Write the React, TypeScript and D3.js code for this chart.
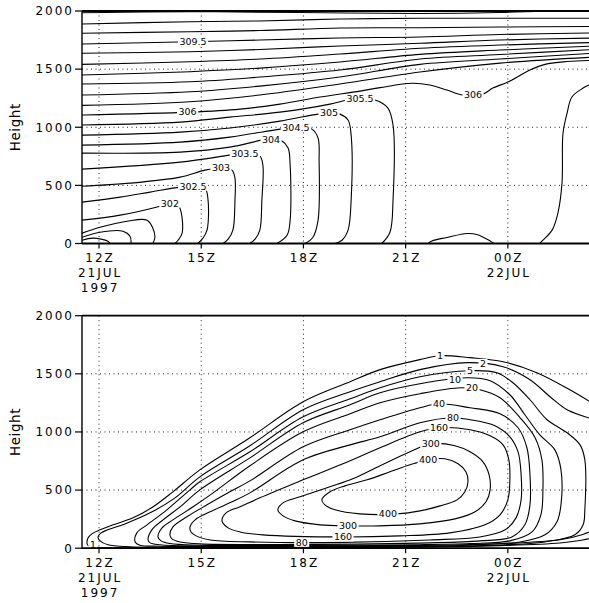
import React from 'react';
import * as d3 from 'd3';

type Pt = [number, number];
type Lbl = [number, number, string];

// time axis in hours from 00Z 21JUL1997 (24 = 00Z 22JUL)
const hourTicks = [12, 15, 18, 21, 24];
const hourTickLabels = [['12Z', '21JUL', '1997'], ['15Z'], ['18Z'], ['21Z'], ['00Z', '22JUL']];
const heightTicks = [0, 500, 1000, 1500, 2000];
const gridHeights = [500, 1000, 1500];

// top panel: potential temperature contours (K), points are [hour, height m]
const th311: Pt[] = [[11.5, 1985], [14.67, 1994], [17.9, 1987], [21.42, 1979], [23.77, 1987], [25.15, 2000]];
const th3105: Pt[] = [[11.5, 1888], [14.67, 1908], [16.72, 1914], [19.07, 1931], [21.42, 1937], [23.77, 1937], [26.56, 1937]];
const th310: Pt[] = [[11.5, 1808], [14.67, 1822], [16.72, 1832], [19.07, 1854], [21.42, 1856], [23.77, 1862], [26.56, 1867]];
const th3095: Pt[] = [[11.5, 1716], [14.67, 1736], [16.72, 1750], [19.07, 1768], [21.42, 1776], [23.77, 1798], [26.56, 1811]];
const th309: Pt[] = [[11.5, 1636], [14.67, 1650], [16.72, 1669], [19.07, 1699], [21.42, 1722], [23.77, 1750], [26.56, 1768]];
const th3085: Pt[] = [[11.5, 1541], [14.67, 1564], [16.72, 1587], [19.07, 1630], [21.42, 1679], [23.77, 1707], [26.56, 1729]];
const th308: Pt[] = [[11.5, 1449], [14.67, 1478], [16.72, 1509], [19.07, 1561], [21.42, 1627], [23.77, 1664], [26.56, 1699]];
const th3075: Pt[] = [[11.5, 1372], [14.67, 1391], [16.72, 1432], [19.07, 1492], [21.42, 1587], [23.77, 1626], [26.56, 1669]];
const th307: Pt[] = [[11.5, 1277], [14.67, 1305], [16.72, 1354], [19.07, 1432], [21.42, 1541], [23.77, 1587], [26.56, 1638]];
const th3065: Pt[] = [[11.5, 1188], [14.67, 1219], [16.72, 1277], [19.07, 1372], [21.42, 1475], [23.77, 1552], [26.56, 1604]];
const th306: Pt[] = [[11.5, 1105], [14.67, 1130], [16.14, 1156], [17.31, 1199], [18.49, 1260], [19.66, 1311], [20.25, 1341], [21.19, 1378], [21.71, 1363], [22.21, 1320], [22.68, 1277], [23.27, 1285], [23.56, 1337], [24.0, 1389], [24.65, 1492], [25.15, 1545], [25.74, 1565], [26.56, 1575]];
const th306east: Pt[] = [[26.6, 1390], [26.38, 1363], [26.21, 1337], [25.88, 1260], [25.74, 1122], [25.62, 950], [25.59, 519], [25.47, 261], [25.3, 115], [25.03, 28], [24.94, 0]];
const th306bump: Pt[] = [[21.66, 0], [21.77, 22], [22.21, 52], [22.8, 86], [23.09, 78], [23.48, 22], [23.59, 0]];
const th3055: Pt[] = [[11.5, 1019], [14.38, 1044], [15.84, 1087], [17.31, 1130], [18.78, 1199], [19.28, 1234], [19.66, 1243], [20.1, 1234], [20.48, 1165], [20.63, 1019], [20.63, 373], [20.54, 97], [20.3, 0]];
const th305: Pt[] = [[11.5, 932], [14.38, 958], [15.84, 993], [17.31, 1053], [18.43, 1113], [18.75, 1122], [19.07, 1113], [19.31, 1062], [19.4, 932], [19.4, 373], [19.31, 115], [19.13, 28], [18.93, 0]];
const th3045: Pt[] = [[11.5, 846], [14.38, 872], [15.84, 915], [17.31, 984], [17.78, 1001], [18.25, 984], [18.43, 907], [18.46, 717], [18.43, 201], [18.28, 54], [18.05, 0]];
const th304: Pt[] = [[11.5, 777], [14.38, 786], [15.84, 829], [16.78, 889], [17.05, 898], [17.37, 881], [17.55, 821], [17.61, 674], [17.61, 201], [17.52, 71], [17.22, 0]];
const th3035: Pt[] = [[11.5, 640], [14.38, 700], [15.84, 760], [16.28, 777], [16.72, 752], [16.81, 674], [16.78, 373], [16.72, 115], [16.58, 37], [16.43, 0]];
const th303: Pt[] = [[11.5, 493], [12.91, 519], [14.38, 571], [15.11, 631], [15.58, 649], [15.9, 631], [15.99, 562], [15.99, 373], [15.93, 115], [15.79, 37], [15.64, 0]];
const th3025: Pt[] = [[11.5, 356], [12.62, 399], [13.5, 442], [14.38, 485], [14.76, 493], [15.11, 476], [15.2, 373], [15.17, 115], [15.05, 46], [14.9, 0]];
const th302: Pt[] = [[11.5, 201], [12.62, 244], [13.79, 321], [14.08, 347], [14.32, 330], [14.41, 270], [14.44, 89], [14.32, 28], [14.23, 0]];
const th3015: Pt[] = [[11.5, 89], [12.03, 140], [12.82, 192], [13.41, 201], [13.58, 132], [13.64, 54], [13.58, 0]];
const th301: Pt[] = [[11.5, 54], [12.03, 97], [12.7, 106], [12.91, 63], [12.94, 0]];
const th3005: Pt[] = [[11.5, 28], [11.82, 46], [12.26, 20], [12.32, 0]];

const thetaLabels: Lbl[] = [
  [14.76, 1736, '309.5'], [14.6, 1133, '306'], [22.98, 1279, '306'], [19.66, 1243, '305.5'],
  [18.75, 1122, '305'], [17.78, 1001, '304.5'], [17.05, 898, '304'], [16.28, 777, '303.5'],
  [15.58, 649, '303'], [14.76, 493, '302.5'], [14.08, 347, '302'],
];

// bottom panel contours (levels 1 ... 400)
const c1: Pt[] = [[26.56, 97], [26.2, 70], [25.53, 45], [23.77, 22], [21.42, 8], [17.9, 4], [13.5, 3], [12.03, 6], [11.73, 14], [11.65, 37], [11.68, 89], [11.79, 123], [12.03, 158], [12.41, 201], [13.0, 261], [13.58, 355], [14.17, 485], [14.96, 674], [16.43, 950], [17.99, 1260], [19.37, 1432], [20.25, 1536], [21.42, 1622], [22.01, 1656], [22.89, 1639], [23.86, 1604], [24.85, 1510], [25.82, 1363], [26.56, 1234]];
const c2: Pt[] = [[26.56, 160], [26.2, 118], [25.53, 72], [23.77, 38], [21.42, 14], [17.9, 9], [14.96, 8], [12.91, 13], [12.26, 30], [12.03, 63], [11.97, 97], [12.06, 132], [12.26, 158], [12.76, 209], [13.5, 304], [14.23, 433], [14.96, 614], [16.43, 881], [17.99, 1191], [19.37, 1346], [20.25, 1432], [21.42, 1536], [22.83, 1596], [23.86, 1561], [24.65, 1449], [25.24, 1303], [25.74, 1191], [26.56, 1105]];
const c5: Pt[] = [[13.11, 132], [13.06, 54], [13.2, 26], [13.79, 17], [16.43, 14], [21.71, 17], [23.77, 28], [25.09, 54], [25.97, 115], [26.21, 201], [26.26, 330], [26.26, 760], [26.12, 889], [25.74, 993], [25.15, 1105], [24.65, 1277], [24.15, 1423], [23.68, 1510], [22.89, 1527], [21.42, 1475], [20.25, 1380], [19.37, 1285], [17.99, 1130], [16.43, 829], [14.96, 571], [14.67, 502], [13.99, 330], [13.41, 201]];
const c10: Pt[] = [[13.44, 71], [13.55, 158], [13.88, 244], [14.38, 356], [14.96, 502], [16.43, 777], [17.99, 1079], [19.37, 1234], [20.25, 1337], [21.42, 1415], [22.83, 1466], [23.48, 1441], [24.06, 1320], [24.5, 1148], [24.94, 975], [25.38, 846], [25.56, 674], [25.56, 373], [25.44, 226], [25.09, 115], [24.36, 54], [22.89, 32], [21.42, 24], [17.9, 19], [14.96, 19], [13.79, 30], [13.5, 46]];
const c20: Pt[] = [[13.73, 97], [13.85, 175], [14.17, 244], [14.76, 356], [15.35, 476], [16.43, 709], [17.99, 1001], [19.37, 1156], [20.25, 1251], [21.42, 1329], [22.62, 1380], [23.18, 1363], [23.77, 1294], [24.36, 1122], [24.8, 950], [25.0, 760], [25.03, 502], [24.97, 287], [24.71, 140], [24.06, 63], [22.89, 40], [21.42, 30], [17.9, 24], [14.96, 26], [14.08, 40], [13.82, 63]];
const c40: Pt[] = [[14.08, 115], [14.17, 183], [14.58, 270], [15.17, 373], [15.84, 485], [16.43, 579], [17.99, 872], [19.37, 1019], [20.25, 1105], [21.42, 1208], [21.98, 1242], [22.89, 1208], [23.77, 1156], [24.3, 1036], [24.56, 864], [24.65, 631], [24.65, 373], [24.5, 201], [24.12, 97], [23.18, 63], [21.71, 46], [17.9, 33], [14.96, 37], [14.38, 54], [14.14, 80]];
const c80: Pt[] = [[14.67, 183], [14.82, 244], [15.26, 313], [15.84, 390], [16.43, 476], [17.99, 760], [19.37, 889], [20.25, 958], [21.42, 1079], [22.39, 1122], [22.89, 1105], [23.62, 1053], [24.06, 958], [24.3, 829], [24.39, 631], [24.39, 416], [24.24, 261], [23.92, 158], [23.18, 97], [21.71, 71], [19.16, 50], [16.43, 54], [15.26, 71], [14.85, 106], [14.7, 140]];
const c160: Pt[] = [[15.61, 235], [15.73, 304], [16.14, 356], [16.72, 433], [17.99, 588], [19.37, 752], [20.25, 864], [21.42, 1001], [21.98, 1036], [22.89, 1019], [23.48, 967], [23.86, 889], [24.03, 760], [24.06, 588], [24.0, 416], [23.77, 287], [23.33, 201], [22.3, 132], [20.83, 106], [19.16, 97], [16.81, 115], [16.14, 140], [15.79, 175]];
const c300: Pt[] = [[17.25, 330], [17.4, 390], [17.9, 442], [18.78, 528], [19.45, 597], [20.25, 709], [21.13, 829], [21.74, 898], [22.45, 881], [22.89, 829], [23.27, 743], [23.45, 631], [23.48, 502], [23.36, 399], [23.04, 313], [22.45, 252], [21.42, 209], [20.25, 192], [19.31, 192], [18.49, 201], [17.75, 235], [17.4, 278]];
const c400: Pt[] = [[18.54, 416], [18.78, 485], [19.22, 536], [19.87, 588], [20.54, 657], [21.13, 717], [21.66, 760], [22.15, 769], [22.54, 726], [22.77, 657], [22.83, 571], [22.74, 485], [22.51, 416], [22.01, 364], [21.42, 321], [20.75, 295], [19.66, 295], [18.93, 330], [18.63, 373]];

// labels sit on their own contour; the stacked ones are staggered along the line
const concLabels: Lbl[] = [
  [22.01, 1656, '1'], [23.27, 1590, '2'], [22.89, 1527, '5'], [22.45, 1450, '10'], [22.95, 1378, '20'],
  [21.98, 1242, '40'], [22.39, 1122, '80'], [21.98, 1036, '160'], [21.74, 898, '300'], [21.66, 760, '400'],
  [20.48, 300, '400'], [19.31, 192, '300'], [19.16, 97, '160'], [17.95, 50, '80'], [11.82, 28, '1'],
];

const thetaOpen = [th311, th3105, th310, th3095, th309, th3085, th308, th3075, th307, th3065, th306, th306east, th306bump,
  th3055, th305, th3045, th304, th3035, th303, th3025, th302, th3015, th301, th3005];
const concOpen = [c1, c2];
const concClosed = [c5, c10, c20, c40, c80, c160, c300, c400];

const x = d3.scaleLinear().domain([11.5, 26.5]).range([82, 593]);
const FONT = "'DejaVu Sans', sans-serif";

const textWidth = (s: string) => s.split('').reduce((w, ch) => w + (ch === '.' ? 3.0 : 6.04), 0);

function Panel({ top, id, open, closed, labels }: { top: number; id: string; open: Pt[][]; closed: Pt[][]; labels: Lbl[] }) {
  const y = d3.scaleLinear().domain([0, 2000]).range([top + 232.5, top]);
  const x0 = 82, x1 = 589;
  const line = d3.line<Pt>().x(d => x(d[0])).y(d => y(d[1])).curve(d3.curveCatmullRom.alpha(0.5));
  const loop = d3.line<Pt>().x(d => x(d[0])).y(d => y(d[1])).curve(d3.curveCatmullRomClosed.alpha(0.5));
  const base = y(0);

  return (
    <g>
      <defs>
        <clipPath id={id}>
          <rect x={x0} y={top} width={x1 - x0 + 10} height={232.5} />
        </clipPath>
      </defs>

      {/* dotted grid */}
      {hourTicks.map(h => (
        <line key={'v' + h} x1={x(h)} x2={x(h)} y1={top} y2={base} stroke="#222" strokeWidth={1} strokeDasharray="1 3.5" />
      ))}
      {gridHeights.map(v => (
        <line key={'h' + v} x1={x0} x2={x1} y1={y(v)} y2={y(v)} stroke="#222" strokeWidth={1} strokeDasharray="1 3.5" />
      ))}

      <g clipPath={`url(#${id})`} fill="none" stroke="#000" strokeWidth={1.1}>
        {open.map((pts, i) => <path key={'o' + i} d={line(pts) || ''} />)}
        {closed.map((pts, i) => <path key={'c' + i} d={loop(pts) || ''} />)}
      </g>

      {labels.map(([h, v, t], i) => {
        const w = textWidth(t);
        return (
          <g key={'l' + i}>
            <rect x={x(h) - w / 2 - 1.5} y={y(v) - 4.5} width={w + 3} height={9} fill="#fff" />
            <text x={x(h)} y={y(v)} dy="0.36em" textAnchor="middle" fontFamily={FONT} fontSize={9.5} fill="#000">{t}</text>
          </g>
        );
      })}

      {/* frame */}
      <line x1={x0} x2={x1} y1={top} y2={top} stroke="#000" strokeWidth={1.8} />
      <line x1={x0} x2={x1} y1={base} y2={base} stroke="#000" strokeWidth={1.8} />
      <line x1={x0} x2={x0} y1={top} y2={base} stroke="#000" strokeWidth={1.4} />

      {heightTicks.map(v => (
        <g key={'yt' + v}>
          <line x1={x0 - 7} x2={x0} y1={y(v)} y2={y(v)} stroke="#000" strokeWidth={1.2} />
          <text x={x0 - 8} y={y(v)} dy="0.36em" textAnchor="end" fontFamily={FONT} fontSize={12} letterSpacing={2}>{v}</text>
        </g>
      ))}
      {hourTicks.map((h, i) => (
        <g key={'xt' + h}>
          <line x1={x(h)} x2={x(h)} y1={base} y2={base + 5} stroke="#000" strokeWidth={1.2} />
          {hourTickLabels[i].map((s, j) => (
            <text key={s} x={x(h) + 1} y={base + 18.5 + j * 15} textAnchor="middle" fontFamily={FONT} fontSize={12} letterSpacing={2}>{s}</text>
          ))}
        </g>
      ))}
      <text transform={`translate(20,${y(1000)}) rotate(-90)`} textAnchor="middle" fontFamily={FONT} fontSize={13.5} letterSpacing={0.6}>Height</text>
    </g>
  );
}

export default function App() {
  return (
    <svg width={589} height={603} style={{ position: 'absolute', left: 0, top: 0, background: '#fff' }}>
      <rect width={589} height={603} fill="#fff" />
      <Panel top={11} id="clipTop" open={thetaOpen} closed={[]} labels={thetaLabels} />
      <Panel top={315.7} id="clipBottom" open={concOpen} closed={concClosed} labels={concLabels} />
    </svg>
  );
}
